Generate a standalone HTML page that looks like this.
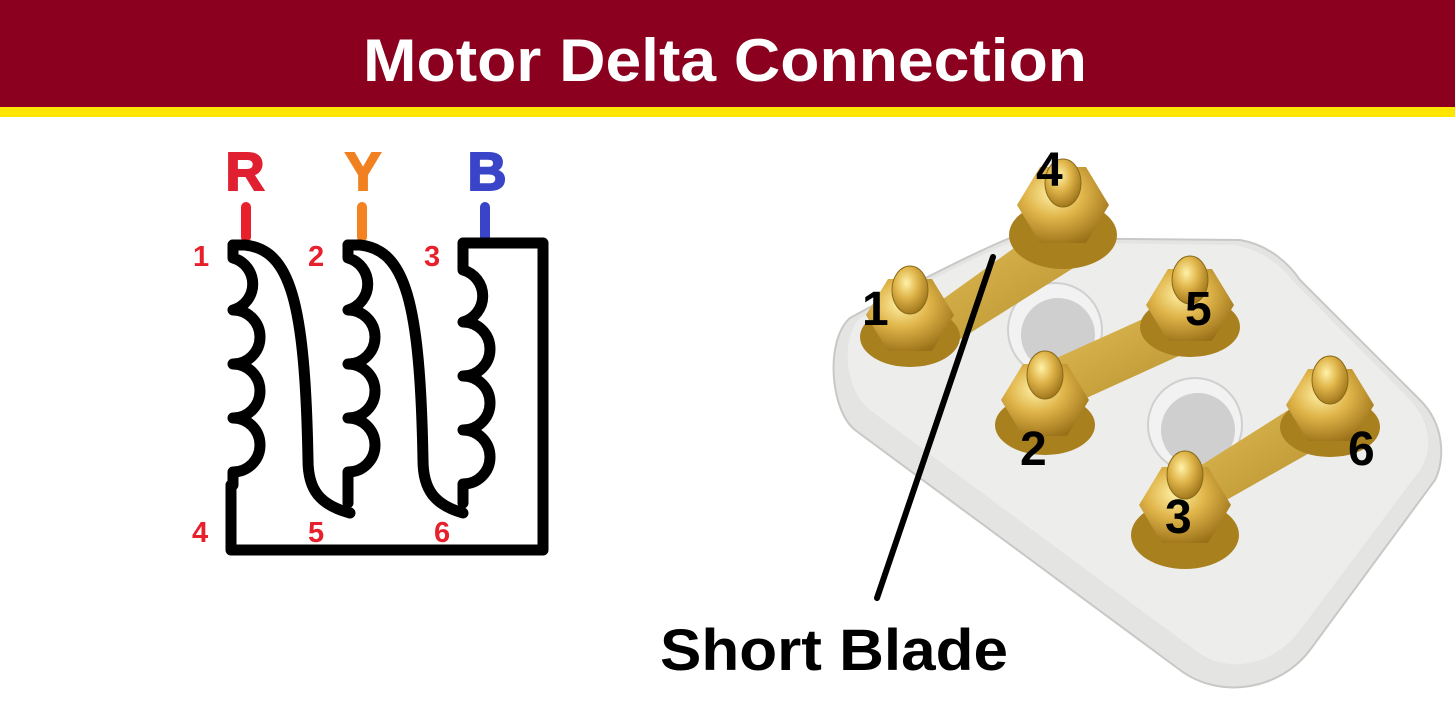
<!DOCTYPE html>
<html><head><meta charset="utf-8"><style>
body{margin:0;width:1455px;height:700px;background:#fff;overflow:hidden;font-family:"Liberation Sans",sans-serif}
</style></head><body>
<svg width="1455" height="700" viewBox="0 0 1455 700" xmlns="http://www.w3.org/2000/svg">
<defs>
<radialGradient id="br" cx="40%" cy="35%" r="70%"><stop offset="0" stop-color="#fff2a8"/><stop offset="0.45" stop-color="#e0b54a"/><stop offset="1" stop-color="#9a7018"/></radialGradient>
<linearGradient id="bl" x1="0" y1="0" x2="1" y2="1"><stop offset="0" stop-color="#e8c25a"/><stop offset="1" stop-color="#b08a28"/></linearGradient>
</defs>
<rect x="0" y="0" width="1455" height="107" fill="#8a001e"/>
<rect x="0" y="107" width="1455" height="10" fill="#ffe600"/>
<text x="363" y="81" textLength="724" lengthAdjust="spacingAndGlyphs" font-size="60" font-weight="bold" fill="#fff" font-family="Liberation Sans, sans-serif">Motor Delta Connection</text>

<!-- left diagram -->
<text x="245" y="190" text-anchor="middle" font-size="54" font-weight="900" fill="#e02030" stroke="#e02030" stroke-width="2">R</text>
<text x="363" y="190" text-anchor="middle" font-size="54" font-weight="900" fill="#f08020" stroke="#f08020" stroke-width="2">Y</text>
<text x="487" y="190" text-anchor="middle" font-size="54" font-weight="900" fill="#3a44c8" stroke="#3a44c8" stroke-width="2">B</text>
<g stroke-linecap="round" stroke-width="10">
<line x1="246" y1="207" x2="246" y2="237" stroke="#e8202c"/>
<line x1="362" y1="207" x2="362" y2="237" stroke="#f58220"/>
<line x1="485" y1="207" x2="485" y2="237" stroke="#3a44c8"/>
</g>
<g font-size="29" font-weight="bold" fill="#e8202c">
<text x="193" y="266">1</text><text x="308" y="266">2</text><text x="424" y="266">3</text>
<text x="192" y="542">4</text><text x="308" y="542">5</text><text x="434" y="542">6</text>
</g>
<g fill="none" stroke="#000" stroke-width="11" stroke-linejoin="round" stroke-linecap="round">
<path d="M233 245 H245 C290 250 305 300 308 460 C308 490 320 505 350 513"/>
<path d="M233 245 V258 A27 27 0 0 1 233 310 A27 27 0 0 1 233 364 A27 27 0 0 1 233 418 A27 27 0 0 1 233 472 V485"/>
<path d="M348 245 H360 C405 250 420 300 423 460 C423 490 435 505 463 513"/>
<path d="M348 245 V258 A27 27 0 0 1 348 310 A27 27 0 0 1 348 364 A27 27 0 0 1 348 418 A27 27 0 0 1 348 472 V503"/>
<path d="M463 250 V243 H543 V550 H231 V485"/>
<path d="M463 250 V270 A27 27 0 0 1 463 322 A27 27 0 0 1 463 376 A27 27 0 0 1 463 430 A27 27 0 0 1 463 484 V503"/>
</g>

<!-- right terminal block -->
<path d="M850 318 C900 290 980 250 1010 238 L1240 240 C1270 245 1290 265 1300 280 L1420 400 C1445 425 1445 460 1435 480 L1310 650 C1280 690 1220 700 1180 670 L855 430 C830 410 825 340 850 318 Z" fill="#e4e4e2" stroke="#c8c8c6" stroke-width="2"/>
<path d="M860 318 C910 290 985 252 1012 242 L1235 245 C1262 250 1282 266 1292 280 L1410 400 C1432 423 1432 452 1420 470 L1300 630 C1272 668 1225 674 1195 650 L870 410 C845 390 840 340 860 318 Z" fill="#ededeb"/>
<circle cx="1055" cy="330" r="47" fill="#f2f2f2" stroke="#d0d0d0" stroke-width="2"/>
<circle cx="1058" cy="335" r="37" fill="#cfcfcf"/>
<circle cx="1195" cy="425" r="47" fill="#f2f2f2" stroke="#d0d0d0" stroke-width="2"/>
<circle cx="1198" cy="430" r="37" fill="#cfcfcf"/>
<path d="M900 330 L1060 215 L1110 245 L935 355 Z" fill="url(#bl)"/>
<path d="M1030 370 L1185 300 L1225 335 L1060 410 Z" fill="url(#bl)"/>
<path d="M1170 485 L1320 390 L1350 430 L1200 515 Z" fill="url(#bl)"/>
<g>
<g transform="translate(910,315)"><ellipse cx="0" cy="22" rx="50" ry="30" fill="#a8801e"/><polygon points="-44,0 -22,-36 22,-36 44,0 22,36 -22,36" fill="url(#br)"/><ellipse cx="0" cy="-25" rx="18" ry="24" fill="url(#br)" stroke="#8a6a18"/></g>
<g transform="translate(1063,205)"><ellipse cx="0" cy="30" rx="54" ry="34" fill="#a8801e"/><polygon points="-46,0 -23,-38 23,-38 46,0 23,38 -23,38" fill="url(#br)"/><ellipse cx="0" cy="-22" rx="18" ry="24" fill="url(#br)" stroke="#8a6a18"/></g>
<g transform="translate(1190,305)"><ellipse cx="0" cy="22" rx="50" ry="30" fill="#a8801e"/><polygon points="-44,0 -22,-36 22,-36 44,0 22,36 -22,36" fill="url(#br)"/><ellipse cx="0" cy="-25" rx="18" ry="24" fill="url(#br)" stroke="#8a6a18"/></g>
<g transform="translate(1045,400)"><ellipse cx="0" cy="25" rx="50" ry="30" fill="#a8801e"/><polygon points="-44,0 -22,-36 22,-36 44,0 22,36 -22,36" fill="url(#br)"/><ellipse cx="0" cy="-25" rx="18" ry="24" fill="url(#br)" stroke="#8a6a18"/></g>
<g transform="translate(1330,405)"><ellipse cx="0" cy="22" rx="50" ry="30" fill="#a8801e"/><polygon points="-44,0 -22,-36 22,-36 44,0 22,36 -22,36" fill="url(#br)"/><ellipse cx="0" cy="-25" rx="18" ry="24" fill="url(#br)" stroke="#8a6a18"/></g>
<g transform="translate(1185,505)"><ellipse cx="0" cy="30" rx="54" ry="34" fill="#a8801e"/><polygon points="-46,0 -23,-38 23,-38 46,0 23,38 -23,38" fill="url(#br)"/><ellipse cx="0" cy="-30" rx="18" ry="24" fill="url(#br)" stroke="#8a6a18"/></g>
</g>
<g font-size="48" font-weight="bold" fill="#000">
<text x="1036" y="186">4</text><text x="862" y="325">1</text><text x="1185" y="325">5</text>
<text x="1020" y="465">2</text><text x="1348" y="465">6</text><text x="1165" y="533">3</text>
</g>
<line x1="993" y1="257" x2="877" y2="598" stroke="#000" stroke-width="6" stroke-linecap="round"/>
<text x="660" y="670" textLength="348" lengthAdjust="spacingAndGlyphs" font-size="58" font-weight="bold" fill="#000">Short Blade</text>
</svg>
</body></html>
